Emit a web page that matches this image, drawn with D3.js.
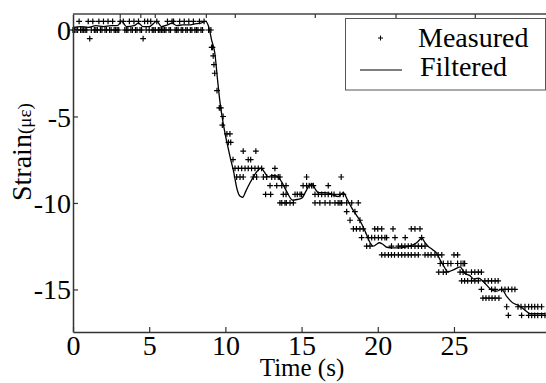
<!DOCTYPE html>
<html>
<head>
<meta charset="utf-8">
<script src="https://cdn.jsdelivr.net/npm/d3@7"></script>
<style>
  html, body { margin: 0; padding: 0; background: #fff; }
  svg { display: block; }
  text { font-family: "Liberation Serif", "Times New Roman", "DejaVu Serif", serif; fill: #000; }
</style>
</head>
<body>
<svg id="chart" width="546" height="383"></svg>
<script>
// ---------- data ----------
const xTicks = [0, 5, 10, 15, 20, 25];
const yTicks = [0, -5, -10, -15];
const topTickTimes = [3.1, 4.45, 5.4, 8.75, 10.65, 15.9, 21.2, 26.4];

// measured samples grouped by quantised strain level: [level, [times]]
const measuredRows = [
  [0.5, [0.4,1.0,1.3,1.7,2.0,2.3,2.6,3.1,3.3,3.7,4.0,4.3,4.7,4.9,5.1,5.5,6.2,6.5,6.6,7.0,7.3,7.6,7.9,8.3,8.6]],
  [0, [0,0.1,0.2,0.3,0.5,0.6,0.7,0.8,0.9,1.2,1.4,1.5,1.6,1.8,1.9,2.1,2.2,2.4,2.5,2.7,2.8,2.9,3.0,3.4,3.5,3.6,3.8,3.9,4.1,4.2,4.4,4.5,4.8,5.0,5.2,5.3,5.4,5.6,5.7,5.8,5.9,6.0,6.1,6.3,6.4,6.7,6.8,6.9,7.1,7.2,7.4,7.5,7.7,7.8,8.0,8.1,8.2,8.4,8.5,8.9,9.05]],
  [-0.5, [1.1,4.6]],
  [-1, [9.1,9.15]],
  [-1.5, [9.2]],
  [-2, [9.25]],
  [-2.5, [9.3]],
  [-3.5, [9.45]],
  [-4.5, [9.6,9.7]],
  [-5, [9.85]],
  [-5.5, [9.8]],
  [-6, [10.1,10.3]],
  [-6.5, [10.2,10.35]],
  [-7, [11.17,12.0]],
  [-7.5, [10.5,11.5,11.66]],
  [-8, [10.63,10.85,11.07,11.29,11.5,11.72,11.94,12.16,12.38,13.25]],
  [-8.5, [10.74,10.96,11.17,11.83,12.05,12.49,12.71,13.04,13.25,13.47,13.58,15.33,17.6]],
  [-9, [12.93,13.37,13.7,13.98,15.1,15.33,15.5,15.66,15.77,16.75]],
  [-9.5, [12.64,12.97,13.8,13.98,14.57,14.72,14.9,15.0,15.88,16.1,16.32,16.54,16.75,16.97,17.13,17.52,17.74]],
  [-10, [13.58,13.7,13.91,14.0,14.24,14.46,15.88,16.2,16.54,16.86,17.19,17.4,17.52,17.63,17.96,18.29,18.72]],
  [-10.5, [17.96,18.5]],
  [-11, [18.18,18.83]],
  [-11.5, [18.4,18.6,18.83,19.05,19.8,20.0,20.26,21.0,22.2,22.44,22.77]],
  [-12, [18.94,19.38,19.6,19.8,20.04,20.26,20.47,20.58,21.13,21.8,22.88]],
  [-12.5, [19.27,19.49,20.9,21.35,21.57,21.78,22.0,22.2,22.44,22.66,22.88,23.1]],
  [-13, [20.26,20.47,20.7,20.9,21.1,21.35,21.57,21.78,22.0,22.2,22.44,22.66,23.1,23.3,23.5,23.75,23.96,24.2,25.0,25.24]],
  [-13.5, [24.1,24.3,24.6,24.8,25.24,25.46,25.6,25.7]],
  [-14, [24.0,24.3,24.5,25.4,25.6,25.8,26.15,26.37,26.6,26.8]],
  [-14.5, [25.5,25.7,25.9,26.15,26.37,26.6,27.03,27.25,27.47,27.7,27.9]],
  [-15, [26.8,27.47,27.7,28.13,28.35,28.57,28.8,29.0]],
  [-15.5, [26.9,27.1,27.3,27.5,27.7,27.95]],
  [-16, [28.46,29.2,29.4,29.66,29.9,30.1,30.3,30.5,30.75]],
  [-16.5, [28.57,29.44,29.9,30.1,30.3,30.5,30.75,30.97]]
];

// filtered signal: [time, strain]
const filtered = [
  [0,0.15],[0.5,0.2],[1.0,0.15],[1.5,0.25],[2.0,0.2],[2.5,0.25],[2.9,0.25],[3.2,0.5],[3.5,0.2],
  [4.0,0.25],[4.3,0.4],[4.6,0.2],[5.0,0.2],[5.5,0.5],[5.8,0.2],[6.2,0.3],[6.5,0.4],[6.8,0.25],
  [7.2,0.3],[7.6,0.3],[8.0,0.35],[8.4,0.4],[8.7,0.5],[8.9,0.2],[9.1,-0.6],[9.3,-1.3],[9.5,-3.0],
  [9.65,-4.2],[9.8,-5.1],[9.97,-5.95],[10.15,-6.7],[10.3,-7.3],[10.52,-8.1],[10.78,-9.25],[10.95,-9.6],
  [11.13,-9.67],[11.35,-9.3],[11.6,-8.86],[11.9,-8.4],[12.15,-8.1],[12.35,-7.98],[12.55,-8.2],[12.8,-8.48],
  [13.1,-8.4],[13.4,-8.45],[13.7,-8.8],[14.0,-9.3],[14.4,-9.83],[14.7,-9.8],[15.0,-9.73],[15.3,-9.3],
  [15.55,-8.92],[15.7,-8.9],[15.9,-9.2],[16.1,-9.4],[16.5,-9.4],[16.86,-9.44],[17.1,-9.55],[17.4,-9.63],
  [17.74,-9.4],[18.0,-9.8],[18.3,-10.3],[18.6,-10.7],[18.94,-11.2],[19.2,-11.7],[19.5,-12.3],[19.7,-12.5],
  [19.9,-12.4],[20.1,-12.3],[20.35,-12.4],[20.6,-12.56],[21.0,-12.6],[21.46,-12.6],[21.8,-12.55],[22.1,-12.5],
  [22.55,-12.3],[22.9,-12.04],[23.1,-12.3],[23.3,-12.5],[23.6,-12.7],[23.86,-12.9],[24.1,-13.3],[24.3,-13.6],
  [24.6,-13.97],[24.96,-13.87],[25.4,-13.7],[25.7,-14.06],[26.05,-14.2],[26.3,-14.4],[26.6,-14.35],
  [27.03,-14.64],[27.47,-15.03],[27.8,-15.1],[28.13,-14.99],[28.46,-15.4],[28.9,-15.8],[29.2,-15.9],
  [29.66,-16.2],[30.0,-16.4],[30.5,-16.4],[31.0,-16.4]
];

// ---------- layout ----------
const FONT = '"Liberation Serif", "Times New Roman", "DejaVu Serif", serif';
const svg = d3.select("#chart");
const plot = { left: 73, right: 546, top: 14, bottom: 332 };

const x = d3.scaleLinear().domain([0, 31.04]).range([plot.left, plot.right]);
const y = d3.scaleLinear().domain([-17.46, 0.925]).range([plot.bottom, plot.top]);

const measured = measuredRows.flatMap(([lvl, ts]) => ts.map(t => [t, lvl]));

// measured '+' markers
const plusSize = 2.9;
svg.append("g").selectAll("path")
  .data(measured)
  .join("path")
  .attr("d", d => {
    const cx = x(d[0]), cy = y(d[1]);
    return `M${cx - plusSize},${cy}H${cx + plusSize}M${cx},${cy - plusSize}V${cy + plusSize}`;
  })
  .attr("stroke", "#000")
  .attr("stroke-width", 1.2)
  .attr("fill", "none");

// filtered line
svg.append("path")
  .datum(filtered)
  .attr("d", d3.line().x(d => x(d[0])).y(d => y(d[1])).curve(d3.curveMonotoneX))
  .attr("fill", "none")
  .attr("stroke", "#000")
  .attr("stroke-width", 1.3);

// axes
const fmt = d => String(d);
const xAxis = svg.append("g")
  .attr("transform", `translate(0,${plot.bottom})`)
  .call(d3.axisBottom(x).tickValues(xTicks).tickFormat(fmt).tickSizeInner(-5).tickSizeOuter(0))
  .attr("font-family", FONT).attr("font-size", 28);
xAxis.select(".domain").attr("stroke", "#333").attr("stroke-width", 1.5);
xAxis.selectAll(".tick line").attr("stroke", "#333").attr("stroke-width", 1.2);
xAxis.selectAll(".tick text")
  .attr("y", 23).attr("dy", 0)
  .attr("font-family", FONT).attr("font-size", 28)
  .style("font-family", FONT).style("font-size", "28px")
  .attr("fill", "#000");

const yAxis = svg.append("g")
  .attr("transform", `translate(${plot.left},0)`)
  .call(d3.axisLeft(y).tickValues(yTicks).tickFormat(fmt).tickSizeInner(-5).tickSizeOuter(0))
  .attr("font-family", FONT).attr("font-size", 28);
yAxis.select(".domain").attr("stroke", "#333").attr("stroke-width", 1.5);
yAxis.selectAll(".tick line").attr("stroke", "#333").attr("stroke-width", 1.2);
yAxis.selectAll(".tick text")
  .attr("x", -2).attr("dy", "0.34em")
  .attr("font-family", FONT).attr("font-size", 28)
  .style("font-family", FONT).style("font-size", "28px")
  .attr("fill", "#000");

// top frame with small ticks
svg.append("line")
  .attr("x1", plot.left).attr("x2", plot.right)
  .attr("y1", plot.top).attr("y2", plot.top)
  .attr("stroke", "#444").attr("stroke-width", 1.5);
svg.append("g").selectAll("line")
  .data(topTickTimes)
  .join("line")
  .attr("x1", d => x(d)).attr("x2", d => x(d))
  .attr("y1", plot.top).attr("y2", plot.top + 4)
  .attr("stroke", "#333").attr("stroke-width", 1.2);

// axis titles
svg.append("text")
  .attr("x", 302).attr("y", 376)
  .attr("text-anchor", "middle")
  .style("font-family", FONT)
  .style("font-size", "25px")
  .text("Time (s)");

const yt = svg.append("text")
  .attr("transform", "translate(31,201) rotate(-90)")
  .attr("text-anchor", "start")
  .style("font-family", FONT);
yt.append("tspan").style("font-size", "28px").text("Strain");
yt.append("tspan").style("font-size", "19px").text("(με)");

// legend
const lg = svg.append("g").style("font-family", FONT);
lg.append("rect")
  .attr("x", 345.5).attr("y", 18.5).attr("width", 200).attr("height", 71.5)
  .attr("fill", "#fff").attr("stroke", "#555").attr("stroke-width", 1);
lg.append("path")
  .attr("d", "M378,38H383M380.5,35.5V40.5")
  .attr("stroke", "#000").attr("stroke-width", 1);
lg.append("text").attr("x", 418).attr("y", 46.5).style("font-size", "28px").text("Measured");
lg.append("line").attr("x1", 360).attr("x2", 402).attr("y1", 70).attr("y2", 70)
  .attr("stroke", "#000").attr("stroke-width", 1.2);
lg.append("text").attr("x", 420).attr("y", 75.5).style("font-size", "28px").text("Filtered");
</script>
</body>
</html>
